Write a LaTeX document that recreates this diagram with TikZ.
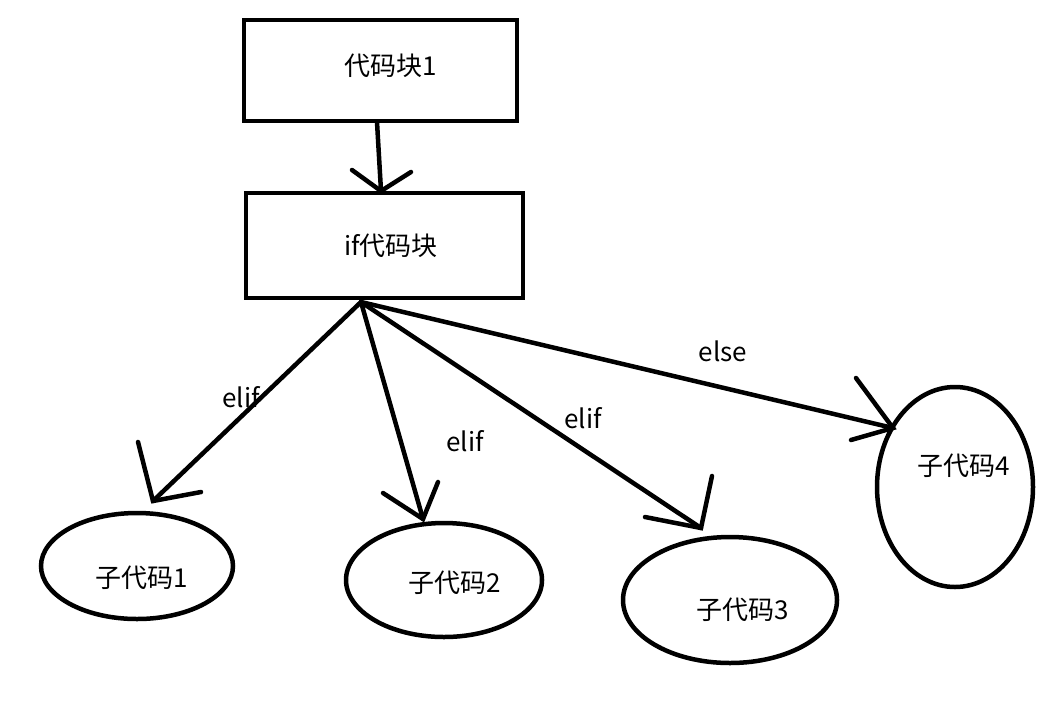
\documentclass[tikz,border=0pt]{standalone}
\usepackage{fontspec}
\setmainfont{Noto Sans CJK SC}
\begin{document}
\begin{tikzpicture}[x=1pt,y=-1pt,
  every path/.style={line width=4.5pt,black},
  boxnode/.style={draw,line width=4.5pt,rectangle,inner sep=0pt},
  ellnode/.style={draw,line width=4.5pt,ellipse,inner sep=0pt},
  txt/.style={font=\fontsize{26}{30}\selectfont,inner sep=0pt},
  shaft/.style={line width=4.5pt,line cap=round},
  headline/.style={line width=4.5pt,line cap=round}]
\useasboundingbox (0,0) rectangle (1064,718);
\fill[white] (0,0) rectangle (1064,718);
% boxes
\draw[line width=4.5pt] (244,20) rectangle (517,121);
\node[txt] (b1) at (391,66) {代码块1};
\draw[line width=4.5pt] (246,193) rectangle (523,298);
\node[txt] (b2) at (391,246) {if代码块};
% ellipses
\draw[line width=4.5pt] (137,566) ellipse [x radius=96, y radius=53];
\draw[line width=4.5pt] (444,580) ellipse [x radius=98, y radius=57];
\draw[line width=4.5pt] (730,600) ellipse [x radius=107, y radius=63];
\draw[line width=4.5pt] (955,487) ellipse [x radius=78, y radius=100];
\node[txt] (c1) at (142,578) {子代码1};
\node[txt] (c2) at (455,583) {子代码2};
\node[txt] (c3) at (743,610) {子代码3};
\node[txt] (c4) at (964,466) {子代码4};
% coordinates
\coordinate (s0) at (377,122);
\coordinate (t0) at (381,191);
\coordinate (o) at (361,302);
\coordinate (t1) at (153,501);
\coordinate (t2) at (423,519);
\coordinate (t3) at (701,528);
\coordinate (t4) at (893,428);
% arrow 0
\draw[shaft] (s0) -- (t0);
\draw[headline] (352,170) -- (t0) -- (411,172);
% arrows
\draw[shaft] (o) -- (t1);
\draw[headline] (138,442) -- (t1) -- (201,492);
\draw[shaft] (o) -- (t2);
\draw[headline] (383,493) -- (t2) -- (438,482);
\draw[shaft] (o) -- (t3);
\draw[headline] (645,517) -- (t3) -- (712,476);
\draw[shaft] (o) -- (t4);
\draw[headline] (856,378) -- (t4) -- (851,440);
% labels
\node[txt] (l1) at (241,397) {elif};
\node[txt] (l2) at (465,441) {elif};
\node[txt] (l3) at (583,418) {elif};
\node[txt] (l4) at (723,351) {else};
\end{tikzpicture}
\end{document}
